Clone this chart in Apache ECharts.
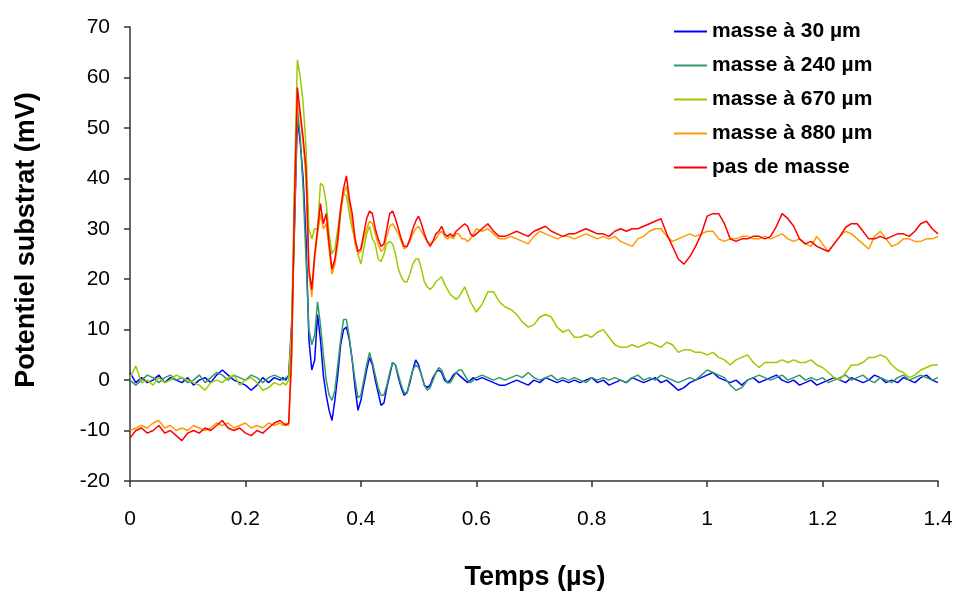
<!DOCTYPE html>
<html><head><meta charset="utf-8">
<script src="https://cdn.jsdelivr.net/npm/echarts@6/dist/echarts.min.js"></script>
<style>html,body{margin:0;padding:0;background:#fff}#c{width:956px;height:596px}</style>
</head><body><div id="c"></div>
<script>
// sampling times (µs)
const t1 = [0,0.01,0.02,0.03,0.04,0.05,0.06,0.07,0.08,0.09,0.1,0.11,0.12,0.13,0.14,0.15,0.16,0.17,0.18,0.19,0.2,0.21,0.22,0.23,0.24,0.25,0.26];
const t2 = [0.265,0.27,0.275,0.28,0.285,0.29,0.295,0.3,0.305,0.31,
0.315,0.32,0.325,0.33,0.335,0.34,0.345,0.35,0.355,0.36,
0.365,0.37,0.375,0.38,0.385,0.39,0.395,0.4,0.405,0.41,
0.415,0.42,0.425,0.43,0.435,0.44,0.445,0.45,0.455,0.46,
0.465,0.47,0.475,0.48,0.485,0.49,0.495,0.5,0.505,0.51,
0.515,0.52,0.525,0.53,0.535,0.54,0.545,0.55,0.555,0.56,
0.565,0.57,0.575,0.58,0.585,0.59,0.595,0.6];
const t3 = [0.61,0.62,0.63,0.64,0.65,0.66,0.67,0.68,0.69,0.7,
0.71,0.72,0.73,0.74,0.75,0.76,0.77,0.78,0.79,0.8,
0.81,0.82,0.83,0.84,0.85,0.86,0.87,0.88,0.89,0.9,
0.91,0.92,0.93,0.94,0.95,0.96,0.97,0.98,0.99,1.0,
1.01,1.02,1.03,1.04,1.05,1.06,1.07,1.08,1.09,1.1,
1.11,1.12,1.13,1.14,1.15,1.16,1.17,1.18,1.19,1.2,
1.21,1.22,1.23,1.24,1.25,1.26,1.27,1.28,1.29,1.3,
1.31,1.32,1.33,1.34,1.35,1.36,1.37,1.38,1.39,1.4];

const seriesNames = ['masse à 30 µm','masse à 240 µm','masse à 670 µm','masse à 880 µm','pas de masse'];
const seriesColors = ['#0000FF','#339966','#99CC00','#FF9900','#FF0000'];

const m30 = [1.5,-0.5,0.5,-0.5,0,1,-0.5,0.5,0,-0.5, 0.5,-1,0,0.5,-0.5,1,2,1,0,-0.5, -1,-2,-1,0.5,-0.5,0.5,0,
0.5,0,1,11,30,52,47,40,28,8,
2,4,13,8,1,-3,-6,-8,-4,1,
7,10,10.5,8,4,-1.5,-6,-4,-1,2,
4.5,3,0,-2.5,-5,-4.5,-1.5,1,3.5,3,
0.5,-1.5,-3,-2.5,-0.5,2,4,3,1,-1,
-1.5,-1,0.5,1.5,2,1.5,0,-0.5,0,1,
1.5,1,0.5,0,-0.5,0,0.5,0,
0.5,0,-0.5,-1,-1,-0.5,0,-0.5,-1,0,
-0.5,0.5,0,-0.5,0,-0.5,0,-0.5,0,0.5,
-0.5,0,-1,-0.5,0,-0.5,0.5,0,-0.5,0,
0.5,-0.5,0,-1,-2,-1.5,-0.5,0,0.5,1,
1.5,0.5,0,-0.5,0,-1,0,0.5,-0.5,0,
0.5,1,0,-0.5,0,-1,-0.5,0,-1,-0.5,
0,0.5,0,-0.5,0.5,0,-0.5,0,1,0.5,
-0.5,0,-0.5,0.5,0,-0.5,0.5,1,0,-0.5];

const m240 = [0,-1,0,1,0.5,-0.5,0.5,1,0,0.5, -0.5,0,1,-0.5,0.5,1.5,1,0,1,0.5, 0,1,0.5,-0.5,0.5,1,0.5,
0,0.5,0.5,8,32,54,48,38,24,10,
7,9,15.5,11,5,0,-3,-4,-2,3,
8,12,12,8.5,4,0,-3.5,-3,0,3,
5.5,3.5,1,-1.5,-3,-3,-1,1.5,3.5,3,
1,-1,-2.5,-2.5,0,2,3,2.5,1,-1,
-2,-1.5,0,1.5,2.5,2,0.5,-0.5,-0.5,0.5,
1.5,2,2,1,0,-0.5,0,0.5,
1,0.5,0,0.5,0,0.5,1,0.5,1.5,0.5,
0,0.5,1,0,0.5,0,0.5,0,-0.5,0.5,
0,0.5,0,0.5,0,-0.5,0.5,1,0,0.5,
0,1,0.5,0,-0.5,0,0.5,0,1,2,
1.5,1,0.5,-1,-2,-1.5,0,0.5,1,0.5,
0,0.5,1,0,0.5,1,0,0.5,0,0.5,
-0.5,0,0.5,1,0,0.5,1,0,-0.5,0.5,
0,-0.5,0.5,1,0,0.5,1,0.5,0,0.5];

const m670 = [0.5,2.8,-0.5,0,-1,0.5,-0.5,0,1,0.5, 0,-0.5,-1,-2,-0.5,0,-0.5,0.5,1,-1, 0,0.5,-0.5,-2,-1.5,-0.5,-1,
-0.5,-1,0,10,40,63.5,60,55,46,30,
28,30,30,39,38.5,35,29,25,26,30,
34,37,36.5,33,30,28,25,23,26,29,
30.5,28,27,24,23.5,25,27,27.5,27,25,
22,20.5,19.5,19.5,21,23,24,24,22,19.5,
18.5,18,18.5,19.5,20,20.5,19,18,17,16.5,
16,16.5,17.5,18.5,17,15.5,14.5,13.5,
15,17.5,17.5,15.5,14.5,14,13,11.5,10.5,11,
12.5,13,12.5,10.5,9.5,10,8.5,8.5,9,8.5,
9.5,10,8.5,7,6.5,6.5,7,6.5,7,7.5,
7,6.5,7.5,7,5.5,6,6,5.5,5.5,5,
5.5,4.5,4,3,4,4.5,5,3.5,2.5,3.5,
3.5,3.5,4,3.5,4,3.5,3.5,4,3,2.5,
1.5,0.5,0,1.5,3,3,3.5,4.5,4.5,5,
4.5,3,2,1.5,0.5,1,2,2.5,3,3];

const m880 = [-10,-9.5,-9,-9.5,-8.5,-8,-9.5,-9,-10,-9.5, -10,-9,-9.5,-10,-9.5,-8.5,-9,-8.5,-9.5,-9, -8.5,-9.5,-9,-9.5,-8.5,-9,-8.5,
-9,-8.5,-9,4,33,56,52,47,40,21,
16.5,24,29,33,30,31,26,21,23,27,
33,37,38.5,35,31,27,25,25.5,28,30,
31.5,31,29,27,25.5,26,28.5,30.5,31,30,
29,27.5,26,26.5,27.5,29,30,30.5,29.5,28.5,
27.5,27,27.5,28,29,29.5,28.5,28,28.5,28,
29,29,28,28,27.5,28,29,30,
29.5,30,29,28,28,28.5,28,27.5,27,28.5,
29.5,29,28.5,28,28.5,28.5,28,28.5,29,28.5,
28,28.5,28,28.5,27.5,27,26.5,28,28.5,29.5,
30,30,28.5,27.5,28,28.5,29,28.5,29,29.5,
29.5,28,27.5,28,28,28.5,28.5,28,28,28.5,
28,28.5,29,28,27.5,28,27,26.5,28.5,27,
25.5,27,28.5,29.5,29,28,27,26,28.5,29.5,
28,26.5,27,28,28,27.5,27.5,28,28,28.5];

const noMass = [-11.5,-10,-9.5,-10.5,-10,-9,-10.5,-10,-11,-12, -10.5,-10,-10.5,-9.5,-10,-9,-8,-9.5,-10,-9.5, -10.5,-11,-10,-10.5,-9.5,-8.5,-8,
-8.5,-9,-8.5,5,35,58,53,48,42,22,
18,25,30,35,31,33,27,22,24,28,
34,38,40.5,36,33,28,25.5,26,29,32,
33.5,33,30,28,26.5,27,30,33,33.5,32,
30,28,26.5,26.5,28,30,31.5,32.5,31,29,
27.5,26.5,27.5,29,29.5,30.5,29,28.5,29,28.5,
29.5,30,30.5,31,30.5,29,28.5,29,
30,31,29.5,28.5,28.5,29,29.5,29,28.5,29.5,
30,30.5,29.5,29,28.5,29,29,29.5,30,29.5,
29,29,28.5,29.5,30,29.5,30,30,30.5,31,
31.5,32,29,26.5,24,23,24.5,26.5,29,32.5,
33,33,31,28,27.5,28,28,28.5,28.5,28,
28.5,30.5,33,32,30.5,28,27,27.5,26.5,26,
25.5,27,28.5,30.3,31,31,29.5,28,28,28.5,
28,28.5,29,29,28.5,29.5,31,31.5,30,29];

const times = t1.concat(t2, t3);
const allValues = [m30, m240, m670, m880, noMass];
allValues.forEach((v,i)=>{ if (v.length !== times.length) console.error('length mismatch', seriesNames[i], v.length, times.length); });

const FONT = "'Liberation Sans', Arial, sans-serif";
const chart = echarts.init(document.getElementById('c'), null, {renderer:'canvas'});
chart.setOption({
  animation: false,
  backgroundColor: '#fff',
  grid: {left: 130, right: 18, top: 27, bottom: 115, containLabel: false},
  legend: {
    orient: 'vertical', left: 669, top: 16, icon: 'rect', itemWidth: 33, itemHeight: 2, itemGap: 13,
    textStyle: {fontFamily: FONT, fontWeight: 'bold', fontSize: 21, color: '#000'},
    data: seriesNames
  },
  xAxis: {
    type: 'value', min: 0, max: 1.4, interval: 0.2,
    axisLine: {show: true, onZero: false, lineStyle: {color: '#333', width: 1.5}},
    axisTick: {show: true, inside: false, length: 6, lineStyle: {color: '#333', width: 1.5}},
    axisLabel: {fontFamily: FONT, fontSize: 21, color: '#000', margin: 28},
    splitLine: {show: false}
  },
  yAxis: {
    type: 'value', min: -20, max: 70, interval: 10,
    axisLine: {show: true, lineStyle: {color: '#333', width: 1.5}},
    axisTick: {show: true, inside: false, length: 6, lineStyle: {color: '#333', width: 1.5}},
    axisLabel: {fontFamily: FONT, fontSize: 21, color: '#000', margin: 20},
    splitLine: {show: false}
  },
  graphic: [
    {type: 'text', x: 27, y: 240, rotation: Math.PI/2,
     style: {text: 'Potentiel substrat (mV)', font: "bold 27px " + FONT, fill: '#000', textAlign: 'center', textVerticalAlign: 'middle'}},
    {type: 'text', x: 535, y: 578,
     style: {text: 'Temps (µs)', font: "bold 27px " + FONT, fill: '#000', textAlign: 'center', textVerticalAlign: 'middle'}}
  ],
  series: seriesNames.map((name, i) => ({
    name: name, type: 'line', symbol: 'none', showSymbol: false,
    color: seriesColors[i],
    lineStyle: {color: seriesColors[i], width: 1.5},
    data: times.map((t, k) => [t, allValues[i][k]])
  }))
});
</script>
</body></html>
